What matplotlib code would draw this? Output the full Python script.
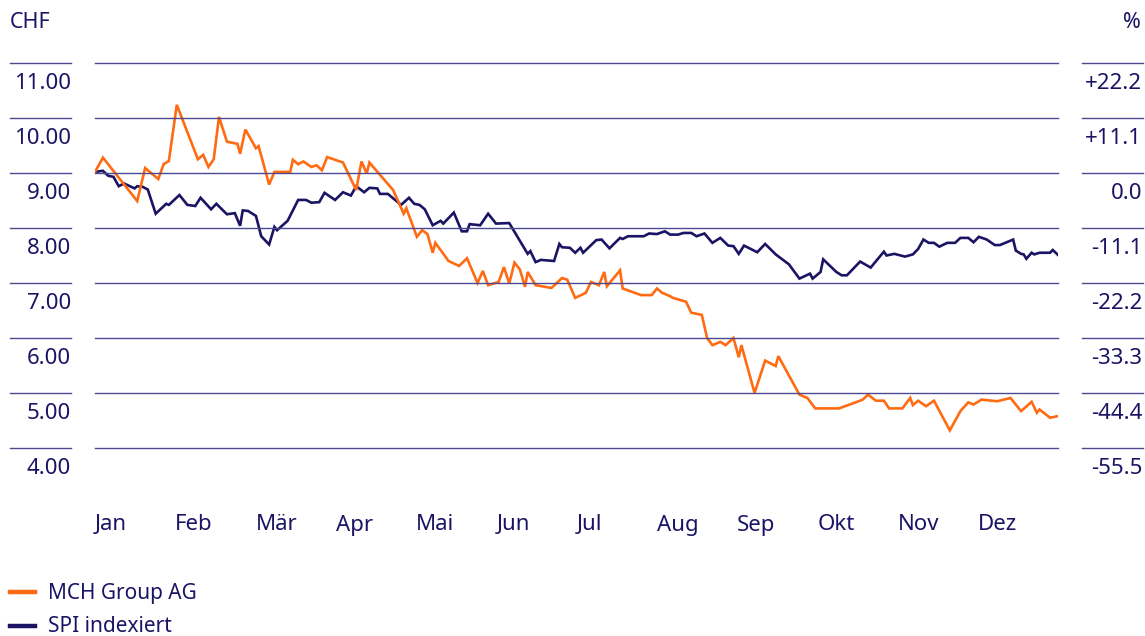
import matplotlib
matplotlib.use('Agg')
import matplotlib.pyplot as plt
from matplotlib.lines import Line2D
from matplotlib.transforms import blended_transform_factory

plt.rcParams['font.family'] = ['Noto Sans', 'DejaVu Sans']

# Tag im Jahr (0 = 1. Jan) und Kurs in CHF
mch_days = [0, 3, 16, 19, 24, 26, 28, 31, 39, 41, 43, 45, 47, 50, 54, 55, 57, 61, 62, 66,
            68, 74, 75, 77, 79, 82, 84, 86, 88, 94, 99, 101, 103, 104, 113, 117, 118, 122, 124, 126,
            128, 129, 134, 138, 141, 145, 147, 149, 153, 155, 157, 159, 161, 163, 164, 167, 173, 177, 179, 182,
            186, 188, 191, 193, 194, 199, 200, 207, 211, 213, 215, 218, 219, 224, 226, 230, 232, 234, 237, 239,
            242, 244, 245, 250, 254, 258, 259, 267, 270, 273, 282, 290, 291, 293, 296, 299, 301, 306, 309, 310,
            312, 315, 318, 324, 328, 331, 333, 336, 342, 347, 351, 355, 357, 358, 362, 365]
mch_chf = [9.02, 9.28, 8.49, 9.09, 8.89, 9.16, 9.22, 10.24, 9.25, 9.33, 9.11, 9.25, 10.02, 9.57, 9.53, 9.35, 9.79, 9.45, 9.49, 8.79,
           9.02, 9.02, 9.24, 9.16, 9.21, 9.11, 9.14, 9.05, 9.29, 9.19, 8.69, 9.21, 8.99, 9.19, 8.69, 8.26, 8.36, 7.84, 7.96, 7.89,
           7.55, 7.73, 7.40, 7.31, 7.45, 7.00, 7.22, 6.96, 7.02, 7.29, 6.99, 7.37, 7.25, 6.93, 7.20, 6.96, 6.91, 7.09, 7.06, 6.73,
           6.82, 7.02, 6.96, 7.20, 6.94, 7.23, 6.90, 6.78, 6.78, 6.90, 6.82, 6.76, 6.73, 6.66, 6.46, 6.42, 6.00, 5.87, 5.93, 5.87,
           6.00, 5.65, 5.87, 5.00, 5.59, 5.49, 5.67, 4.97, 4.91, 4.72, 4.72, 4.86, 4.88, 4.97, 4.86, 4.86, 4.72, 4.72, 4.91, 4.78,
           4.86, 4.76, 4.86, 4.32, 4.67, 4.83, 4.79, 4.88, 4.85, 4.91, 4.67, 4.84, 4.64, 4.70, 4.55, 4.58]

# SPI, indexiert auf den MCH-Startkurs
spi_days = [0, 3, 5, 7, 9, 11, 15, 16, 18, 20, 23, 27, 28, 32, 35, 38, 40, 44, 46, 50,
            53, 55, 56, 58, 61, 63, 66, 68, 69, 73, 77, 80, 82, 85, 87, 91, 94, 97, 99, 102,
            104, 107, 108, 111, 116, 119, 121, 123, 125, 128, 131, 132, 136, 139, 141, 142, 146, 149, 152, 157,
            164, 165, 167, 169, 174, 176, 177, 180, 182, 184, 185, 190, 192, 195, 199, 200, 202, 208, 210, 213,
            216, 218, 221, 223, 226, 228, 231, 234, 237, 240, 242, 244, 246, 251, 254, 258, 263, 267, 271, 272,
            275, 276, 281, 283, 285, 290, 294, 299, 300, 303, 307, 310, 312, 314, 316, 318, 320, 323, 326, 328,
            331, 333, 335, 338, 341, 343, 348, 349, 351, 352, 353, 355, 356, 358, 362, 363, 365]
spi_chf = [9.02, 9.04, 8.95, 8.93, 8.76, 8.81, 8.72, 8.76, 8.75, 8.70, 8.26, 8.44, 8.42, 8.60, 8.42, 8.40, 8.55, 8.34, 8.44, 8.25,
           8.27, 8.04, 8.32, 8.31, 8.22, 7.85, 7.70, 8.02, 7.96, 8.13, 8.51, 8.51, 8.46, 8.47, 8.64, 8.51, 8.65, 8.59, 8.76, 8.65,
           8.73, 8.72, 8.62, 8.62, 8.42, 8.55, 8.44, 8.42, 8.34, 8.05, 8.13, 8.08, 8.28, 7.94, 7.94, 8.07, 8.05, 8.26, 8.08, 8.09,
           7.53, 7.58, 7.38, 7.42, 7.40, 7.71, 7.65, 7.64, 7.55, 7.64, 7.55, 7.78, 7.79, 7.63, 7.82, 7.80, 7.85, 7.85, 7.90, 7.89,
           7.94, 7.88, 7.88, 7.91, 7.91, 7.85, 7.90, 7.73, 7.82, 7.68, 7.67, 7.53, 7.68, 7.56, 7.71, 7.52, 7.34, 7.08, 7.17, 7.08,
           7.20, 7.43, 7.20, 7.14, 7.14, 7.39, 7.28, 7.57, 7.50, 7.53, 7.48, 7.52, 7.62, 7.79, 7.73, 7.73, 7.66, 7.73, 7.73, 7.82,
           7.82, 7.74, 7.84, 7.79, 7.69, 7.69, 7.79, 7.59, 7.53, 7.52, 7.44, 7.55, 7.52, 7.55, 7.55, 7.60, 7.51]

months = ['Jan', 'Feb', 'Mär', 'Apr', 'Mai', 'Jun', 'Jul', 'Aug', 'Sep', 'Okt', 'Nov', 'Dez']
chf_ticks = [11, 10, 9, 8, 7, 6, 5, 4]
chf_labels = ['11.00', '10.00', '9.00', '8.00', '7.00', '6.00', '5.00', '4.00']
pct_labels = ['+22.2', '+11.1', '0.0', '-11.1', '-22.2', '-33.3', '-44.4', '-55.5']

NAVY = '#1b1464'
ORANGE = '#ff6b12'
GRID = '#4d4990'

W, H = 1145, 636
fig = plt.figure(figsize=(W / 100, H / 100), dpi=100)
ax = fig.add_axes([95 / W, (H - 470) / H, 963 / W, 430 / H])
ax.set_xlim(0, 365)
ax.set_ylim(4 - 22 / 55, 11 + 23 / 55)
ax.axis('off')

ax.plot(spi_days, spi_chf, color=NAVY, lw=1.9, solid_joinstyle='miter', zorder=3)
ax.plot(mch_days, mch_chf, color=ORANGE, lw=1.9, solid_joinstyle='miter', zorder=4)

# Gitterlinien: links, Plotbereich, rechts
tr = blended_transform_factory(fig.transFigure, ax.transData)
for v, lab_l, lab_r in zip(chf_ticks, chf_labels, pct_labels):
    for x0, x1 in [(10, 71), (95, 1058), (1082, 1143)]:
        fig.add_artist(Line2D([x0 / W, x1 / W], [v, v], transform=tr, color=GRID, lw=1.0, zorder=1))
    fig.text(71 / W, v - 0.37, lab_l, transform=tr, ha='right', va='center', fontsize=16, color=NAVY)
    fig.text(1142 / W, v - 0.37, lab_r, transform=tr, ha='right', va='center', fontsize=16, color=NAVY)

fig.text(10 / W, 1 - 22 / H, 'CHF', ha='left', va='center', fontsize=15.5, color=NAVY)
fig.text(1141 / W, 1 - 22 / H, '%', ha='right', va='center', fontsize=15.5, color=NAVY)

# Monatsbeschriftung
trx = blended_transform_factory(ax.transData, fig.transFigure)
for i, m in enumerate(months):
    fig.text(i * 365 / 12, 1 - 525 / H, m, transform=trx, ha='left', va='center', fontsize=16, color=NAVY)

# Legende
for y, col, lab in [(592, ORANGE, 'MCH Group AG'), (626, NAVY, 'SPI indexiert')]:
    fig.add_artist(Line2D([10 / W, 35 / W], [1 - y / H, 1 - y / H], color=col, lw=3.2))
    fig.text(48 / W, 1 - (y + 1) / H, lab, ha='left', va='center', fontsize=15, color=NAVY)

fig.savefig('out.png', dpi=100)
